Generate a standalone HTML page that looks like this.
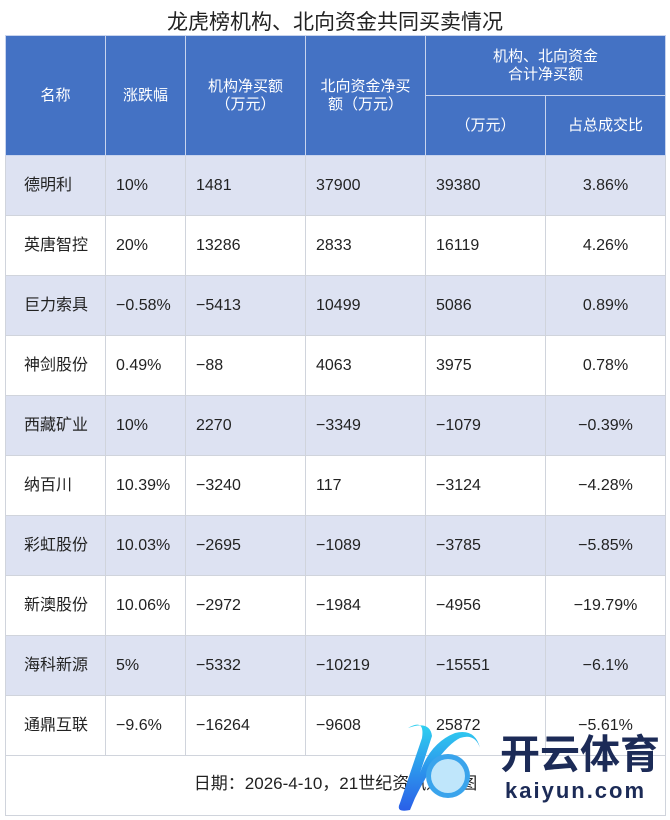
<!DOCTYPE html>
<html><head><meta charset="utf-8"><style>
body{margin:0;width:670px;height:820px;background:#fff;font-family:"Liberation Sans","Noto Sans CJK SC",sans-serif;position:relative;overflow:hidden}
.t{position:absolute;left:0;width:670px;top:6px;text-align:center;font-size:21px;color:#222}
table{position:absolute;left:5px;top:35px;border-collapse:collapse;table-layout:fixed;width:660px}
td,th{font-weight:normal;font-size:16px;padding:0;border:1px solid #d0d4dc;color:#222;line-height:20px}
th{background:#4472c4;color:#fff;border-color:#c8d4ee;font-size:15px;line-height:18px}
td{height:59px;padding-left:10px}
td:first-child{padding-left:18px}
td:last-child{text-align:center;padding-left:0}
tr.a td{background:#dde2f2}
.f td{height:55px;text-align:center;padding:0;font-size:17px;padding-bottom:4px}
</style></head><body>
<div class="t">龙虎榜机构、北向资金共同买卖情况</div>
<table>
<colgroup><col style="width:100px"><col style="width:80px"><col style="width:120px"><col style="width:120px"><col style="width:120px"><col style="width:120px"></colgroup>
<tr style="height:60px"><th rowspan="2">名称</th><th rowspan="2">涨跌幅</th><th rowspan="2">机构净买额<br>（万元）</th><th rowspan="2">北向资金净买<br>额（万元）</th><th colspan="2">机构、北向资金<br>合计净买额</th></tr>
<tr style="height:60px"><th>（万元）</th><th>占总成交比</th></tr>
<tr class="a"><td>德明利</td><td>10%</td><td>1481</td><td>37900</td><td>39380</td><td>3.86%</td></tr>
<tr><td>英唐智控</td><td>20%</td><td>13286</td><td>2833</td><td>16119</td><td>4.26%</td></tr>
<tr class="a"><td>巨力索具</td><td>−0.58%</td><td>−5413</td><td>10499</td><td>5086</td><td>0.89%</td></tr>
<tr><td>神剑股份</td><td>0.49%</td><td>−88</td><td>4063</td><td>3975</td><td>0.78%</td></tr>
<tr class="a"><td>西藏矿业</td><td>10%</td><td>2270</td><td>−3349</td><td>−1079</td><td>−0.39%</td></tr>
<tr><td>纳百川</td><td>10.39%</td><td>−3240</td><td>117</td><td>−3124</td><td>−4.28%</td></tr>
<tr class="a"><td>彩虹股份</td><td>10.03%</td><td>−2695</td><td>−1089</td><td>−3785</td><td>−5.85%</td></tr>
<tr><td>新澳股份</td><td>10.06%</td><td>−2972</td><td>−1984</td><td>−4956</td><td>−19.79%</td></tr>
<tr class="a"><td>海科新源</td><td>5%</td><td>−5332</td><td>−10219</td><td>−15551</td><td>−6.1%</td></tr>
<tr><td>通鼎互联</td><td>−9.6%</td><td>−16264</td><td>−9608</td><td>25872</td><td>−5.61%</td></tr>
<tr class="f"><td colspan="6">日期：2026-4-10，21世纪资讯通制图</td></tr>
</table>
<svg style="position:absolute;left:380px;top:718px" width="290" height="100">
<defs><linearGradient id="g" x1="0" y1="0" x2="0" y2="1"><stop offset="0" stop-color="#2fd0f0"/><stop offset="1" stop-color="#2a5fe8"/></linearGradient></defs>
<path d="M28 10 Q45 0 42 20 L20 85 Q15 95 30 92 L35 80 Q60 30 80 20 Q95 15 100 30 Q95 10 75 15 Q50 25 40 55 L52 18 Q50 2 28 10Z" fill="url(#g)"/>
<circle cx="68" cy="58" r="22" fill="#3aa4ec"/>
<circle cx="68" cy="58" r="17" fill="#bfe6fb"/>
<text x="120" y="50" font-size="40" font-weight="bold" fill="#1c2b57" font-family="Noto Sans CJK SC,sans-serif">开云体育</text>
<text x="125" y="80" font-size="22" font-weight="bold" fill="#1c2b57" letter-spacing="2" font-family="Liberation Sans,sans-serif">kaiyun.com</text>
</svg>
</body></html>
